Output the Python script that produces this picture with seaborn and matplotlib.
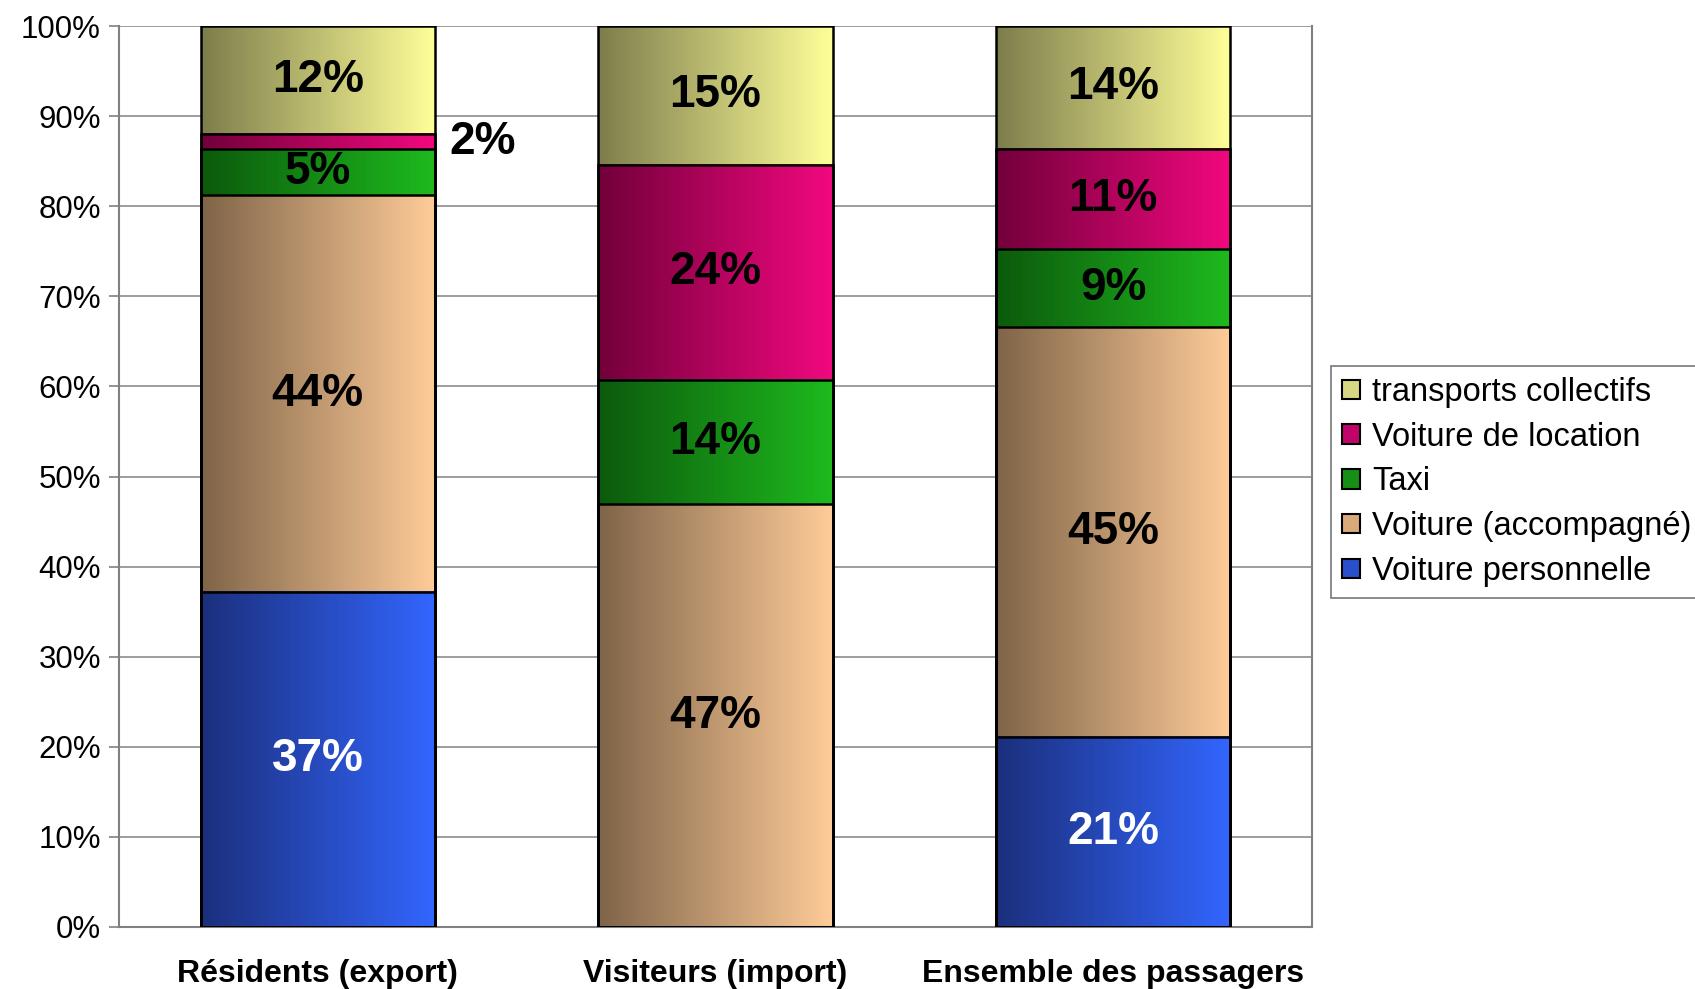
import matplotlib
matplotlib.use("Agg")
import matplotlib.pyplot as plt
from matplotlib.colors import LinearSegmentedColormap
from matplotlib.patches import Patch
import seaborn as sns
import pandas as pd
import numpy as np

categories = ["Résidents (export)", "Visiteurs (import)", "Ensemble des passagers"]
modes = ["Voiture personnelle", "Voiture (accompagné)", "Taxi",
         "Voiture de location", "transports collectifs"]

# shares in %, bottom to top
perso = [37.2, 0.0, 21.1]
accomp = [44.0, 46.9, 45.5]
taxi = [5.1, 13.8, 8.7]
location = [1.7, 23.9, 11.1]
collectifs = [12.0, 15.4, 13.6]
labels = [["37%", "", "21%"],
          ["44%", "47%", "45%"],
          ["5%", "14%", "9%"],
          ["2%", "24%", "11%"],
          ["12%", "15%", "14%"]]

# (dark, light) ends of the horizontal gradient
grads = [("#1b2f7c", "#3366ff"),
         ("#7f6448", "#ffcc99"),
         ("#0c5a0c", "#1eba1e"),
         ("#72003a", "#f2087f"),
         ("#7d7d4c", "#ffff99")]
mids = ["#2a4fcc", "#d9a97a", "#168f16", "#c0046a", "#d8d882"]
text_cols = ["white", "black", "black", "black", "black"]

series = [perso, accomp, taxi, location, collectifs]
tops = np.cumsum(np.array(series), axis=0)
bottoms = tops - np.array(series)

sns.set_style("white")
plt.rcParams["font.family"] = ["Liberation Sans", "DejaVu Sans"]
plt.rcParams["text.color"] = "black"
plt.rcParams["xtick.labelcolor"] = "black"
plt.rcParams["ytick.labelcolor"] = "black"

fig = plt.figure(figsize=(16.95, 9.89), dpi=100)
ax = fig.add_axes([0.0702, 0.0627, 0.7038, 0.911])

bar_w = 0.59
# draw layers from the top down so lower segments sit above
for i in reversed(range(len(series))):
    df = pd.DataFrame({"cat": categories, "top": tops[i]})
    n0 = len(ax.patches)
    sns.barplot(data=df, x="cat", y="top", color=mids[i], width=bar_w,
                edgecolor="black", linewidth=1.8, ax=ax)
    cmap = LinearSegmentedColormap.from_list("g%d" % i, list(grads[i]))
    for j, p in enumerate(ax.patches[n0:]):
        p.set_facecolor("none")
        p.set_zorder(3)
        if series[i][j] <= 0:
            continue
        x0 = p.get_x()
        w = p.get_width()
        ax.imshow(np.linspace(0, 1, 256).reshape(1, -1), cmap=cmap,
                  extent=[x0, x0 + w, bottoms[i][j], tops[i][j]],
                  aspect="auto", zorder=2, interpolation="bilinear")

for i in range(len(series)):
    for j in range(len(categories)):
        if not labels[i][j]:
            continue
        mid = (bottoms[i][j] + tops[i][j]) / 2
        if series[i][j] < 3:
            ax.text(j + 0.33, mid, labels[i][j], ha="left", va="center",
                    fontsize=33, fontweight="bold", color="black", zorder=4)
        else:
            ax.text(j, mid, labels[i][j], ha="center", va="center",
                    fontsize=33, fontweight="bold", color=text_cols[i], zorder=4)

ax.set_xlim(-0.5, 2.5)
ax.set_ylim(0, 100)
ax.set_yticks(np.arange(0, 101, 10))
ax.set_yticklabels([f"{v}%" for v in range(0, 101, 10)], fontsize=22.5)
ax.set_xticks(range(len(categories)))
ax.set_xticklabels(categories, fontsize=23, fontweight="bold")
ax.set_xticks([-0.5, 0.5, 1.5, 2.5], minor=True)
ax.tick_params(axis="x", which="major", length=0, pad=23)
ax.tick_params(axis="x", which="minor", length=7, width=1.2, color="#808080", direction="out")
ax.tick_params(axis="y", length=7, width=1.2, color="#808080", direction="out", pad=6, left=True)
ax.set_xlabel("")
ax.set_ylabel("")
ax.grid(axis="y", color="#8c8c8c", linewidth=1.2)
ax.set_axisbelow(True)
for s in ax.spines.values():
    s.set_color("#808080")
    s.set_linewidth(1.5)
ax.spines["top"].set_visible(False)

handles = [Patch(facecolor=mids[i], edgecolor="black", linewidth=1.5, label=modes[i])
           for i in reversed(range(len(modes)))]
leg = fig.legend(handles=handles, loc="center left",
                 bbox_to_anchor=(1331 / 1695, 1 - 482 / 989),
                 bbox_transform=fig.transFigure, fontsize=23.5, frameon=True,
                 fancybox=False, handlelength=0.55, handleheight=0.55,
                 handletextpad=0.35, borderpad=0.35, labelspacing=0.42,
                 borderaxespad=0)
leg.get_frame().set_edgecolor("#555555")
leg.get_frame().set_linewidth(1.2)

fig.savefig("out.png", dpi=100)
